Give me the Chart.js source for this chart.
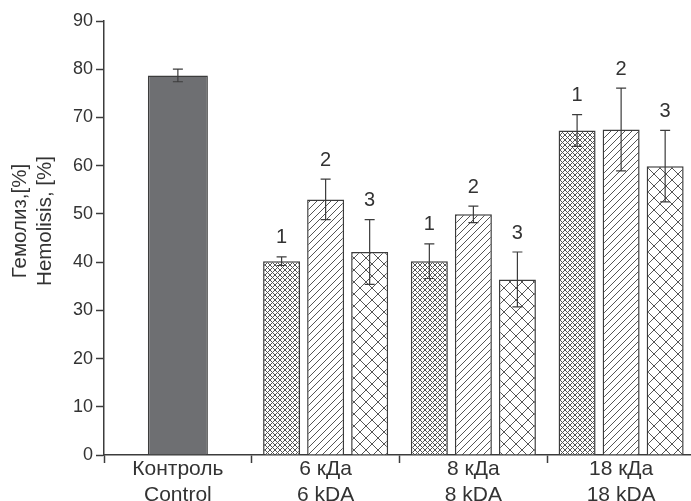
<!DOCTYPE html>
<html>
  <head>
    <title>Hemolysis</title>
    <script src="https://cdn.jsdelivr.net/npm/chart.js"></script>
    <style>
      body {
        margin: 0;
        overflow: hidden;
        background: #fff;
      }
    </style>
  </head>
  <body>
    <canvas id="chart" width="700" height="501"></canvas>

    <script>
      // categories (two-line labels) and series
      const groups = [
        ["Контроль", "Control"],
        ["6 кДа", "6 kDA"],
        ["8 кДа", "8 kDA"],
        ["18 кДа", "18 kDA"],
      ];
      const seriesNames = ["1", "2", "3"];
      const yTitle = ["Гемолиз,[%]", "Hemolisis, [%]"];

      const controlValues = [78.7, null, null, null];
      const controlErrors = [1.3, null, null, null];

      const series1 = [null, 40.2, 40.2, 67.3];
      const errors1 = [null, 0.9, 3.6, 3.3];
      const series2 = [null, 53.0, 49.9, 67.5];
      const errors2 = [null, 4.2, 1.7, 8.6];
      const series3 = [null, 42.1, 36.4, 59.9];
      const errors3 = [null, 6.7, 5.7, 7.4];

      const yTicks = [0, 10, 20, 30, 40, 50, 60, 70, 80, 90];

      const ink = "#3c3c3c";
      const hatch = "#555";
      const font = "'Liberation Sans', Arial, sans-serif";

      // hatch patterns
      function makePattern(size, draw) {
        const c = document.createElement("canvas");
        c.width = size;
        c.height = size;
        const g = c.getContext("2d");
        g.fillStyle = "#fff";
        g.fillRect(0, 0, size, size);
        g.strokeStyle = hatch;
        g.lineWidth = 1;
        draw(g, size);
        return g.createPattern(c, "repeat");
      }
      function forward(g, s) {
        g.beginPath();
        g.moveTo(-1, s + 1);
        g.lineTo(s + 1, -1);
        g.moveTo(-1, 1);
        g.lineTo(1, -1);
        g.moveTo(s - 1, s + 1);
        g.lineTo(s + 1, s - 1);
        g.stroke();
      }
      function backward(g, s) {
        g.beginPath();
        g.moveTo(-1, -1);
        g.lineTo(s + 1, s + 1);
        g.moveTo(s - 1, -1);
        g.lineTo(s + 1, 1);
        g.moveTo(-1, s - 1);
        g.lineTo(1, s + 1);
        g.stroke();
      }
      const patDense = makePattern(5, (g, s) => {
        forward(g, s);
        backward(g, s);
      });
      const patDiag = makePattern(7, (g, s) => forward(g, s));
      const patCross = makePattern(12, (g, s) => {
        forward(g, s);
        backward(g, s);
      });

      // error bars, number labels, minor ticks, y title
      const errorBars = {
        id: "errorBars",
        afterDatasetsDraw(chart) {
          const ctx = chart.ctx;
          const y = chart.scales.y;
          ctx.save();
          chart.data.datasets.forEach((ds, di) => {
            const meta = chart.getDatasetMeta(di);
            ds.data.forEach((v, i) => {
              if (v === null) return;
              const bar = meta.data[i];
              const e = ds.errors[i];
              const top = y.getPixelForValue(v + e);
              const bot = y.getPixelForValue(v - e);
              ctx.strokeStyle = ink;
              ctx.lineWidth = 1.2;
              ctx.beginPath();
              ctx.moveTo(bar.x, top);
              ctx.lineTo(bar.x, bot);
              ctx.moveTo(bar.x - 5, top);
              ctx.lineTo(bar.x + 5, top);
              ctx.moveTo(bar.x - 5, bot);
              ctx.lineTo(bar.x + 5, bot);
              ctx.stroke();
              if (ds.tag) {
                ctx.fillStyle = "#333";
                ctx.font = "20px " + font;
                ctx.textAlign = "center";
                ctx.textBaseline = "middle";
                ctx.fillText(ds.tag, bar.x, top - 19);
              }
            });
          });
          // minor y ticks at the half steps
          ctx.strokeStyle = ink;
          ctx.lineWidth = 1.5;
          y.ticks.forEach((t) => {
            if (t.value % 10 === 0) return;
            const py = y.getPixelForValue(t.value);
            ctx.beginPath();
            ctx.moveTo(y.right - 4, py);
            ctx.lineTo(y.right, py);
            ctx.stroke();
          });
          // y title, two lines
          ctx.translate(0, 221);
          ctx.rotate(-Math.PI / 2);
          ctx.fillStyle = "#333";
          ctx.font = "20.5px " + font;
          ctx.textAlign = "center";
          ctx.textBaseline = "middle";
          ctx.fillText(yTitle[0], 0, 20);
          ctx.fillText(yTitle[1], 0, 45);
          ctx.restore();
        },
      };

      const groupOpts = { categoryPercentage: 0.894, barPercentage: 0.84 };

      new Chart(document.getElementById("chart"), {
        type: "bar",
        data: {
          labels: groups,
          datasets: [
            {
              data: controlValues,
              errors: controlErrors,
              backgroundColor: "#6e6f72",
              categoryPercentage: 0.406,
              barPercentage: 1,
            },
            {
              data: series1,
              errors: errors1,
              tag: seriesNames[0],
              backgroundColor: patDense,
              ...groupOpts,
            },
            {
              data: series2,
              errors: errors2,
              tag: seriesNames[1],
              backgroundColor: patDiag,
              ...groupOpts,
            },
            {
              data: series3,
              errors: errors3,
              tag: seriesNames[2],
              backgroundColor: patCross,
              ...groupOpts,
            },
          ],
        },
        options: {
          responsive: false,
          animation: false,
          skipNull: true,
          borderColor: ink,
          borderWidth: 1.5,
          layout: { padding: { top: 21, right: 5, left: 0, bottom: 0 } },
          plugins: {
            legend: { display: false },
            tooltip: { enabled: false },
          },
          scales: {
            x: {
              grid: {
                offset: true,
                drawOnChartArea: false,
                tickLength: 8,
                tickColor: ink,
                tickWidth: 1.5,
              },
              border: { color: ink, width: 1.5 },
              ticks: {
                color: "#333",
                font: { family: font, size: 21, lineHeight: 1.24 },
                padding: -7,
                maxRotation: 0,
              },
              afterFit(scale) {
                scale.height = 46;
              },
            },
            y: {
              min: 0,
              max: 90,
              afterBuildTicks(scale) {
                const t = [];
                yTicks.forEach((v) => {
                  t.push({ value: v });
                  if (v < 90) t.push({ value: v + 5 });
                });
                scale.ticks = t;
              },
              grid: {
                drawOnChartArea: false,
                tickLength: 8,
                tickWidth: 1.5,
                tickColor: (c) =>
                  c.tick && c.tick.value % 10 === 0 ? ink : "transparent",
              },
              border: { color: ink, width: 1.5 },
              ticks: {
                color: "#333",
                font: { family: font, size: 18 },
                padding: 3,
                callback: (v) => (v % 10 === 0 ? v : ""),
              },
              afterFit(scale) {
                scale.width = 104;
              },
            },
          },
        },
        plugins: [errorBars],
      });
    </script>
  </body>
</html>
